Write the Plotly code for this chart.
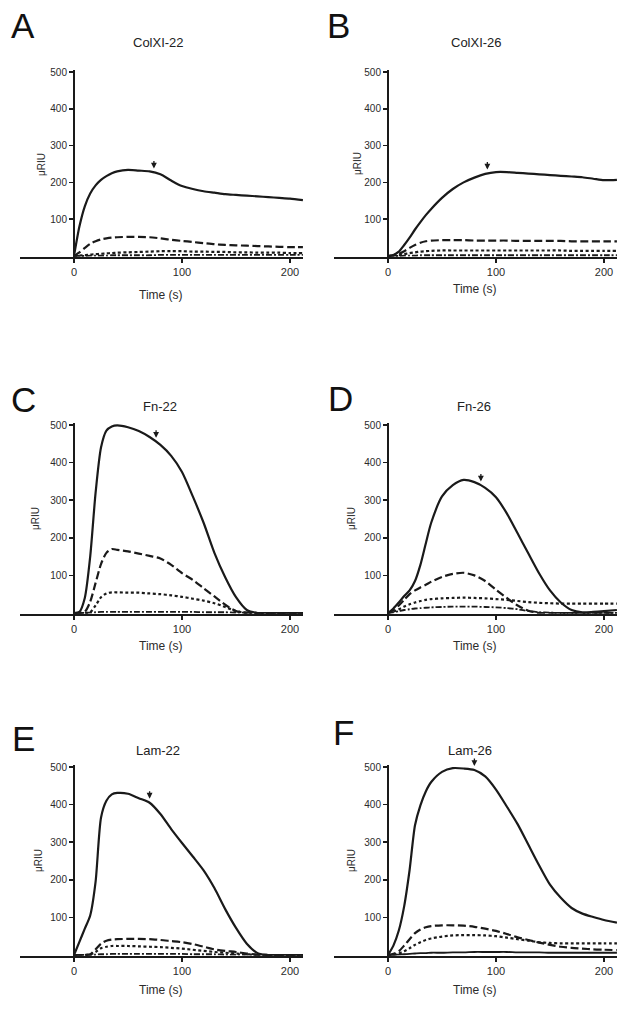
import numpy as np
import plotly.graph_objects as go

# ---------------- data ----------------
time_s = [0, 5, 10, 15, 20, 25, 30, 35, 40, 50, 60, 70, 80, 90, 100, 110, 120, 130, 140, 150, 160, 170, 180, 190, 200, 212]

panel_letters = ["A", "B", "C", "D", "E", "F"]
panel_titles = ["ColXI-22", "ColXI-26", "Fn-22", "Fn-26", "Lam-22", "Lam-26"]

colxi22_solid = [0, 80, 135, 170, 192, 207, 217, 225, 230, 234, 232, 230, 222, 205, 190, 182, 176, 172, 168, 166, 164, 162, 160, 158, 156, 152]
colxi22_long = [0, 10, 22, 33, 40, 45, 48, 50, 51, 52, 52, 51, 48, 44, 41, 38, 35, 32, 30, 29, 28, 27, 26, 25, 24, 24]
colxi22_short = [0, 1, 2, 4, 5, 6, 7, 8, 9, 10, 11, 12, 13, 13, 13, 12, 12, 11, 11, 10, 10, 9, 9, 9, 8, 8]
colxi22_low = [0, 0, 0, 1, 1, 1, 1, 2, 2, 2, 2, 2, 3, 3, 3, 3, 3, 3, 3, 3, 3, 3, 3, 3, 3, 3]

colxi26_solid = [0, 3, 12, 30, 50, 72, 92, 111, 128, 158, 182, 200, 213, 223, 228, 228, 226, 224, 222, 220, 218, 216, 214, 210, 206, 207]
colxi26_long = [0, 2, 6, 13, 22, 30, 36, 40, 42, 43, 43, 43, 42, 42, 42, 42, 41, 41, 41, 41, 41, 40, 40, 40, 40, 40]
colxi26_short = [0, 1, 2, 5, 8, 10, 12, 13, 14, 15, 15, 15, 15, 15, 15, 15, 15, 15, 15, 15, 15, 14, 14, 14, 14, 14]
colxi26_low = [0, 0, 0, 1, 1, 1, 2, 2, 2, 2, 2, 2, 2, 2, 2, 2, 2, 2, 2, 2, 2, 2, 2, 2, 2, 2]

fn22_solid = [0, 3, 40, 150, 320, 440, 485, 496, 499, 494, 484, 468, 447, 418, 375, 310, 240, 160, 95, 42, 8, 0, 0, 0, 0, 0]
fn22_long = [0, 0, 3, 30, 80, 130, 160, 170, 168, 164, 158, 152, 145, 128, 106, 88, 66, 44, 22, 5, 1, 0, 0, 0, 0, 0]
fn22_short = [0, 0, 0, 2, 20, 42, 52, 55, 55, 54, 54, 52, 50, 47, 43, 38, 33, 26, 16, 5, 0, 0, 0, 0, 0, 0]
fn22_low = [0, 0, 0, 1, 2, 3, 3, 3, 3, 3, 3, 3, 3, 3, 3, 3, 2, 2, 2, 1, 1, 0, 0, 0, 0, 0]

fn26_solid = [0, 12, 28, 45, 60, 85, 128, 185, 240, 310, 340, 354, 348, 333, 308, 265, 212, 158, 105, 60, 28, 8, 2, 3, 5, 8]
fn26_long = [0, 8, 20, 35, 50, 60, 68, 75, 83, 96, 104, 107, 100, 85, 62, 40, 20, 6, 0, 0, 0, 0, 0, 0, 0, 0]
fn26_short = [0, 4, 10, 17, 23, 28, 32, 35, 37, 39, 40, 41, 40, 39, 37, 35, 32, 29, 27, 26, 25, 25, 25, 25, 25, 25]
fn26_low = [0, 2, 5, 8, 10, 12, 13, 14, 15, 16, 17, 17, 17, 16, 15, 13, 10, 5, 2, 1, 0, 0, 0, 0, 0, 0]

lam22_solid = [0, 35, 70, 105, 195, 365, 410, 427, 431, 429, 417, 405, 375, 335, 298, 262, 225, 178, 122, 72, 30, 5, 0, 0, 0, 0]
lam22_long = [0, 0, 0, 2, 15, 30, 38, 41, 42, 43, 43, 42, 40, 37, 34, 29, 22, 15, 11, 8, 4, 1, 0, 0, 0, 0]
lam22_short = [0, 0, 0, 1, 8, 18, 22, 24, 24, 24, 23, 22, 21, 19, 17, 14, 11, 8, 6, 4, 2, 1, 0, 0, 0, 0]
lam22_low = [0, 0, 0, 0, 1, 2, 2, 3, 3, 3, 3, 3, 3, 3, 3, 2, 2, 2, 1, 1, 1, 0, 0, 0, 0, 0]

lam26_solid = [0, 25, 65, 130, 226, 345, 398, 435, 460, 487, 497, 496, 492, 475, 440, 395, 348, 293, 238, 187, 152, 125, 110, 101, 93, 86]
lam26_long = [0, 3, 10, 25, 42, 58, 68, 74, 77, 79, 79, 78, 75, 70, 64, 56, 47, 40, 33, 27, 22, 19, 17, 15, 14, 13]
lam26_short = [0, 1, 4, 10, 18, 27, 34, 40, 44, 49, 52, 53, 53, 52, 50, 46, 42, 38, 34, 32, 31, 31, 31, 31, 31, 31]
lam26_low = [0, 0, 1, 2, 3, 4, 5, 5, 6, 6, 7, 7, 8, 8, 8, 8, 7, 7, 7, 6, 6, 6, 6, 6, 6, 6]

arrow_time = [74, 92, 76, 86, 70, 80]

x_ticks = [0, 100, 200]
y_ticks = [100, 200, 300, 400, 500]
x_tick_labels = ["0", "100", "200"]
y_tick_labels = ["100", "200", "300", "400", "500"]

panels = [
    (colxi22_solid, colxi22_long, colxi22_short, colxi22_low),
    (colxi26_solid, colxi26_long, colxi26_short, colxi26_low),
    (fn22_solid, fn22_long, fn22_short, fn22_low),
    (fn26_solid, fn26_long, fn26_short, fn26_low),
    (lam22_solid, lam22_long, lam22_short, lam22_low),
    (lam26_solid, lam26_long, lam26_short, lam26_low),
]

# ---------------- layout geometry (page pixels) ----------------
W, H = 632, 1011
FONT = "Liberation Sans, Arial, sans-serif"
INK = "#1a1a1a"
TXT = "#2b2b2b"


def px(xp):
    return xp / W


def py(yp):
    return 1 - yp / H


col_x0 = [74, 388]          # page x of t = 0 for left / right column
x_scale = 1.08              # pixels per second
row_y0 = [256, 613, 955]    # page y of value 0
row_y500 = [72, 425, 767]   # page y of value 500
x_range = [-50, 212]
y_range = [-2, 505]

title_pos = [(158, 43), (476, 43), (160, 407), (474, 407), (158, 750), (470, 750)]
letter_pos = [(23, 25), (338, 25), (23, 400), (340, 399), (23, 738), (343, 732)]
ylabel_x = [42, 358, 35, 351, 38, 351]
xlabel_dy = [39, 33, 33, 33, 35, 35]

styles = [
    dict(dash="solid", width=2.2),
    dict(dash="8px,3.5px", width=2.2),
    dict(dash="3px,2.5px", width=2.2),
    dict(dash="6px,2px,2px,2px", width=1.8),
]

fig = go.Figure()
annotations = []
layout_axes = {}

for i, series in enumerate(panels):
    r, c = divmod(i, 2)
    k = i + 1
    xs = "" if k == 1 else str(k)
    x0 = col_x0[c]
    px_left = x0 + x_range[0] * x_scale
    px_right = x0 + x_range[1] * x_scale
    yscale = (row_y0[r] - row_y500[r]) / 500.0
    py_bottom = row_y0[r] - y_range[0] * yscale
    py_top = row_y0[r] - y_range[1] * yscale

    for j, vals in enumerate(series):
        st = styles[j]
        dash = st["dash"]
        if i == 5 and j == 3:
            dash = "solid"
        fig.add_trace(go.Scatter(
            x=time_s, y=vals, mode="lines",
            line=dict(color=INK, width=st["width"], dash=dash, shape="spline", smoothing=0.7),
            xaxis="x" + xs, yaxis="y" + xs, showlegend=False, hoverinfo="skip",
        ))

    layout_axes["xaxis" + xs] = dict(
        domain=[px(px_left), px(px_right)], range=x_range, anchor="y" + xs,
        showline=True, linewidth=2, linecolor=INK, ticks="outside", ticklen=4,
        tickwidth=1.5, tickcolor=INK, tickvals=x_ticks, ticktext=x_tick_labels,
        showgrid=False, zeroline=False,
        tickfont=dict(family=FONT, size=11, color=TXT), fixedrange=True,
    )
    layout_axes["yaxis" + xs] = dict(
        domain=[py(py_bottom), py(py_top)], range=y_range,
        anchor="free", position=px(x0),
        showline=True, linewidth=2, linecolor=INK, ticks="outside", ticklen=4,
        tickwidth=1.5, tickcolor=INK, tickvals=y_ticks, ticktext=y_tick_labels,
        showgrid=False, zeroline=False,
        tickfont=dict(family=FONT, size=10, color=TXT), fixedrange=True,
    )

    common = dict(xref="paper", yref="paper", showarrow=False, xanchor="center", yanchor="middle")
    tx, ty = title_pos[i]
    annotations.append(dict(x=px(tx), y=py(ty), text=panel_titles[i],
                            font=dict(family=FONT, size=13, color="#222222"), **common))
    lx, ly = letter_pos[i]
    annotations.append(dict(x=px(lx), y=py(ly), text=panel_letters[i],
                            font=dict(family=FONT, size=35, color="#111111"), **common))
    annotations.append(dict(x=px(ylabel_x[i]), y=py((row_y0[r] + row_y500[r]) / 2),
                            text="μRIU", textangle=-90,
                            font=dict(family=FONT, size=10, color=TXT), **common))
    annotations.append(dict(x=px((px_left + px_right) / 2), y=py(row_y0[r] + xlabel_dy[i]),
                            text="Time (s)",
                            font=dict(family=FONT, size=12, color=TXT), **common))
    at = arrow_time[i]
    ay_val = float(np.interp(at, time_s, series[0]))
    annotations.append(dict(x=at, y=ay_val, xref="x" + xs, yref="y" + xs, text="",
                            showarrow=True, arrowhead=2, arrowsize=0.9, arrowwidth=1.3,
                            arrowcolor=INK, ax=0, ay=-13, standoff=4))

fig.update_layout(
    template="none",
    width=W, height=H, margin=dict(l=0, r=0, t=0, b=0, pad=0),
    paper_bgcolor="white", plot_bgcolor="white",
    annotations=annotations, showlegend=False, hovermode=False,
    **layout_axes,
)

fig.write_html("out.html", config={"displayModeBar": False, "staticPlot": True},
               post_script="document.body.style.margin='0px';")
